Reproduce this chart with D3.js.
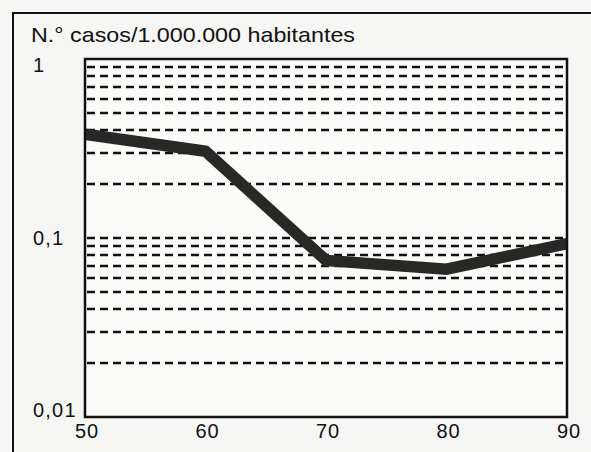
<!DOCTYPE html>
<html><head><meta charset="utf-8">
<script src="https://cdn.jsdelivr.net/npm/d3@7/dist/d3.min.js"></script>
<style>
html,body{margin:0;padding:0;background:#f6f6f4;}
svg{display:block;}
text{font-family:"Liberation Sans",Arial,Helvetica,sans-serif;fill:#111;}
</style></head>
<body>
<script>
const years = [50, 60, 70, 80, 90];
const cases = [0.38, 0.305, 0.075, 0.067, 0.093];
const xTicks = [50, 60, 70, 80, 90];
const yTicks = [1, 0.1, 0.01];
const yTickLabels = ["1", "0,1", "0,01"];
const gridValues = [0.9,0.8,0.7,0.6,0.5,0.4,0.3,0.2,0.1,0.09,0.08,0.07,0.06,0.05,0.04,0.03,0.02];
const title = "N.° casos/1.000.000 habitantes";

const W = 591, H = 452;
const L = 85, R = 567, T = 59, B = 417;

const svg = d3.select("body").append("svg").attr("width", W).attr("height", H);

// outer frame
svg.append("path").attr("d", `M13,${H} L13,13 L${W},13`)
  .attr("fill","none").attr("stroke","#111").attr("stroke-width",2);

const x = d3.scaleLinear().domain([50, 90]).range([L, R]);
const y = d3.scaleLog().domain([0.01, 1]).range([B, T]);

// plot background
svg.append("rect").attr("x",L).attr("y",T).attr("width",R-L).attr("height",B-T).attr("fill","#fbfbfa");

// dashed grid
svg.append("g").selectAll("line").data(gridValues).join("line")
  .attr("x1", L+2).attr("x2", R-2)
  .attr("y1", d => Math.round(y(d))).attr("y2", d => Math.round(y(d)))
  .attr("stroke","#111").attr("stroke-width",2.5).attr("stroke-dasharray","8,5");

// data line
const line = d3.line().x(d => x(d[0])).y(d => y(d[1]));
svg.append("path").datum(years.map((v,i)=>[v,cases[i]]))
  .attr("d", line).attr("fill","none").attr("stroke","#2a2727")
  .attr("stroke-width",11.5).attr("stroke-linejoin","miter");

// mask line ends outside the plot box
svg.append("rect").attr("x",L-40).attr("y",T).attr("width",40-1).attr("height",B-T).attr("fill","#f6f6f4");
svg.append("rect").attr("x",R+1).attr("y",T).attr("width",20).attr("height",B-T).attr("fill","#f6f6f4");

// plot border
svg.append("rect").attr("x",L).attr("y",T).attr("width",R-L).attr("height",B-T)
  .attr("fill","none").attr("stroke","#111").attr("stroke-width",2.5);

// title
svg.append("text").attr("x",31).attr("y",42).attr("font-size",21)
  .attr("textLength",324).attr("lengthAdjust","spacingAndGlyphs").text(title);

// y tick labels
svg.append("g").selectAll("text").data(yTicks).join("text")
  .attr("x",33)
  .attr("y",(d)=>{const p=y(d); return p + 13*(1-(p-T)/(B-T));})
  .attr("font-size",20).attr("letter-spacing",1.2)
  .text((d,i)=>yTickLabels[i]);

// x tick labels
svg.append("g").selectAll("text").data(xTicks).join("text")
  .attr("x", d => x(d)+2).attr("y",438).attr("text-anchor","middle")
  .attr("font-size",20).attr("letter-spacing",0.8).text(d => d);
</script>
</body></html>
